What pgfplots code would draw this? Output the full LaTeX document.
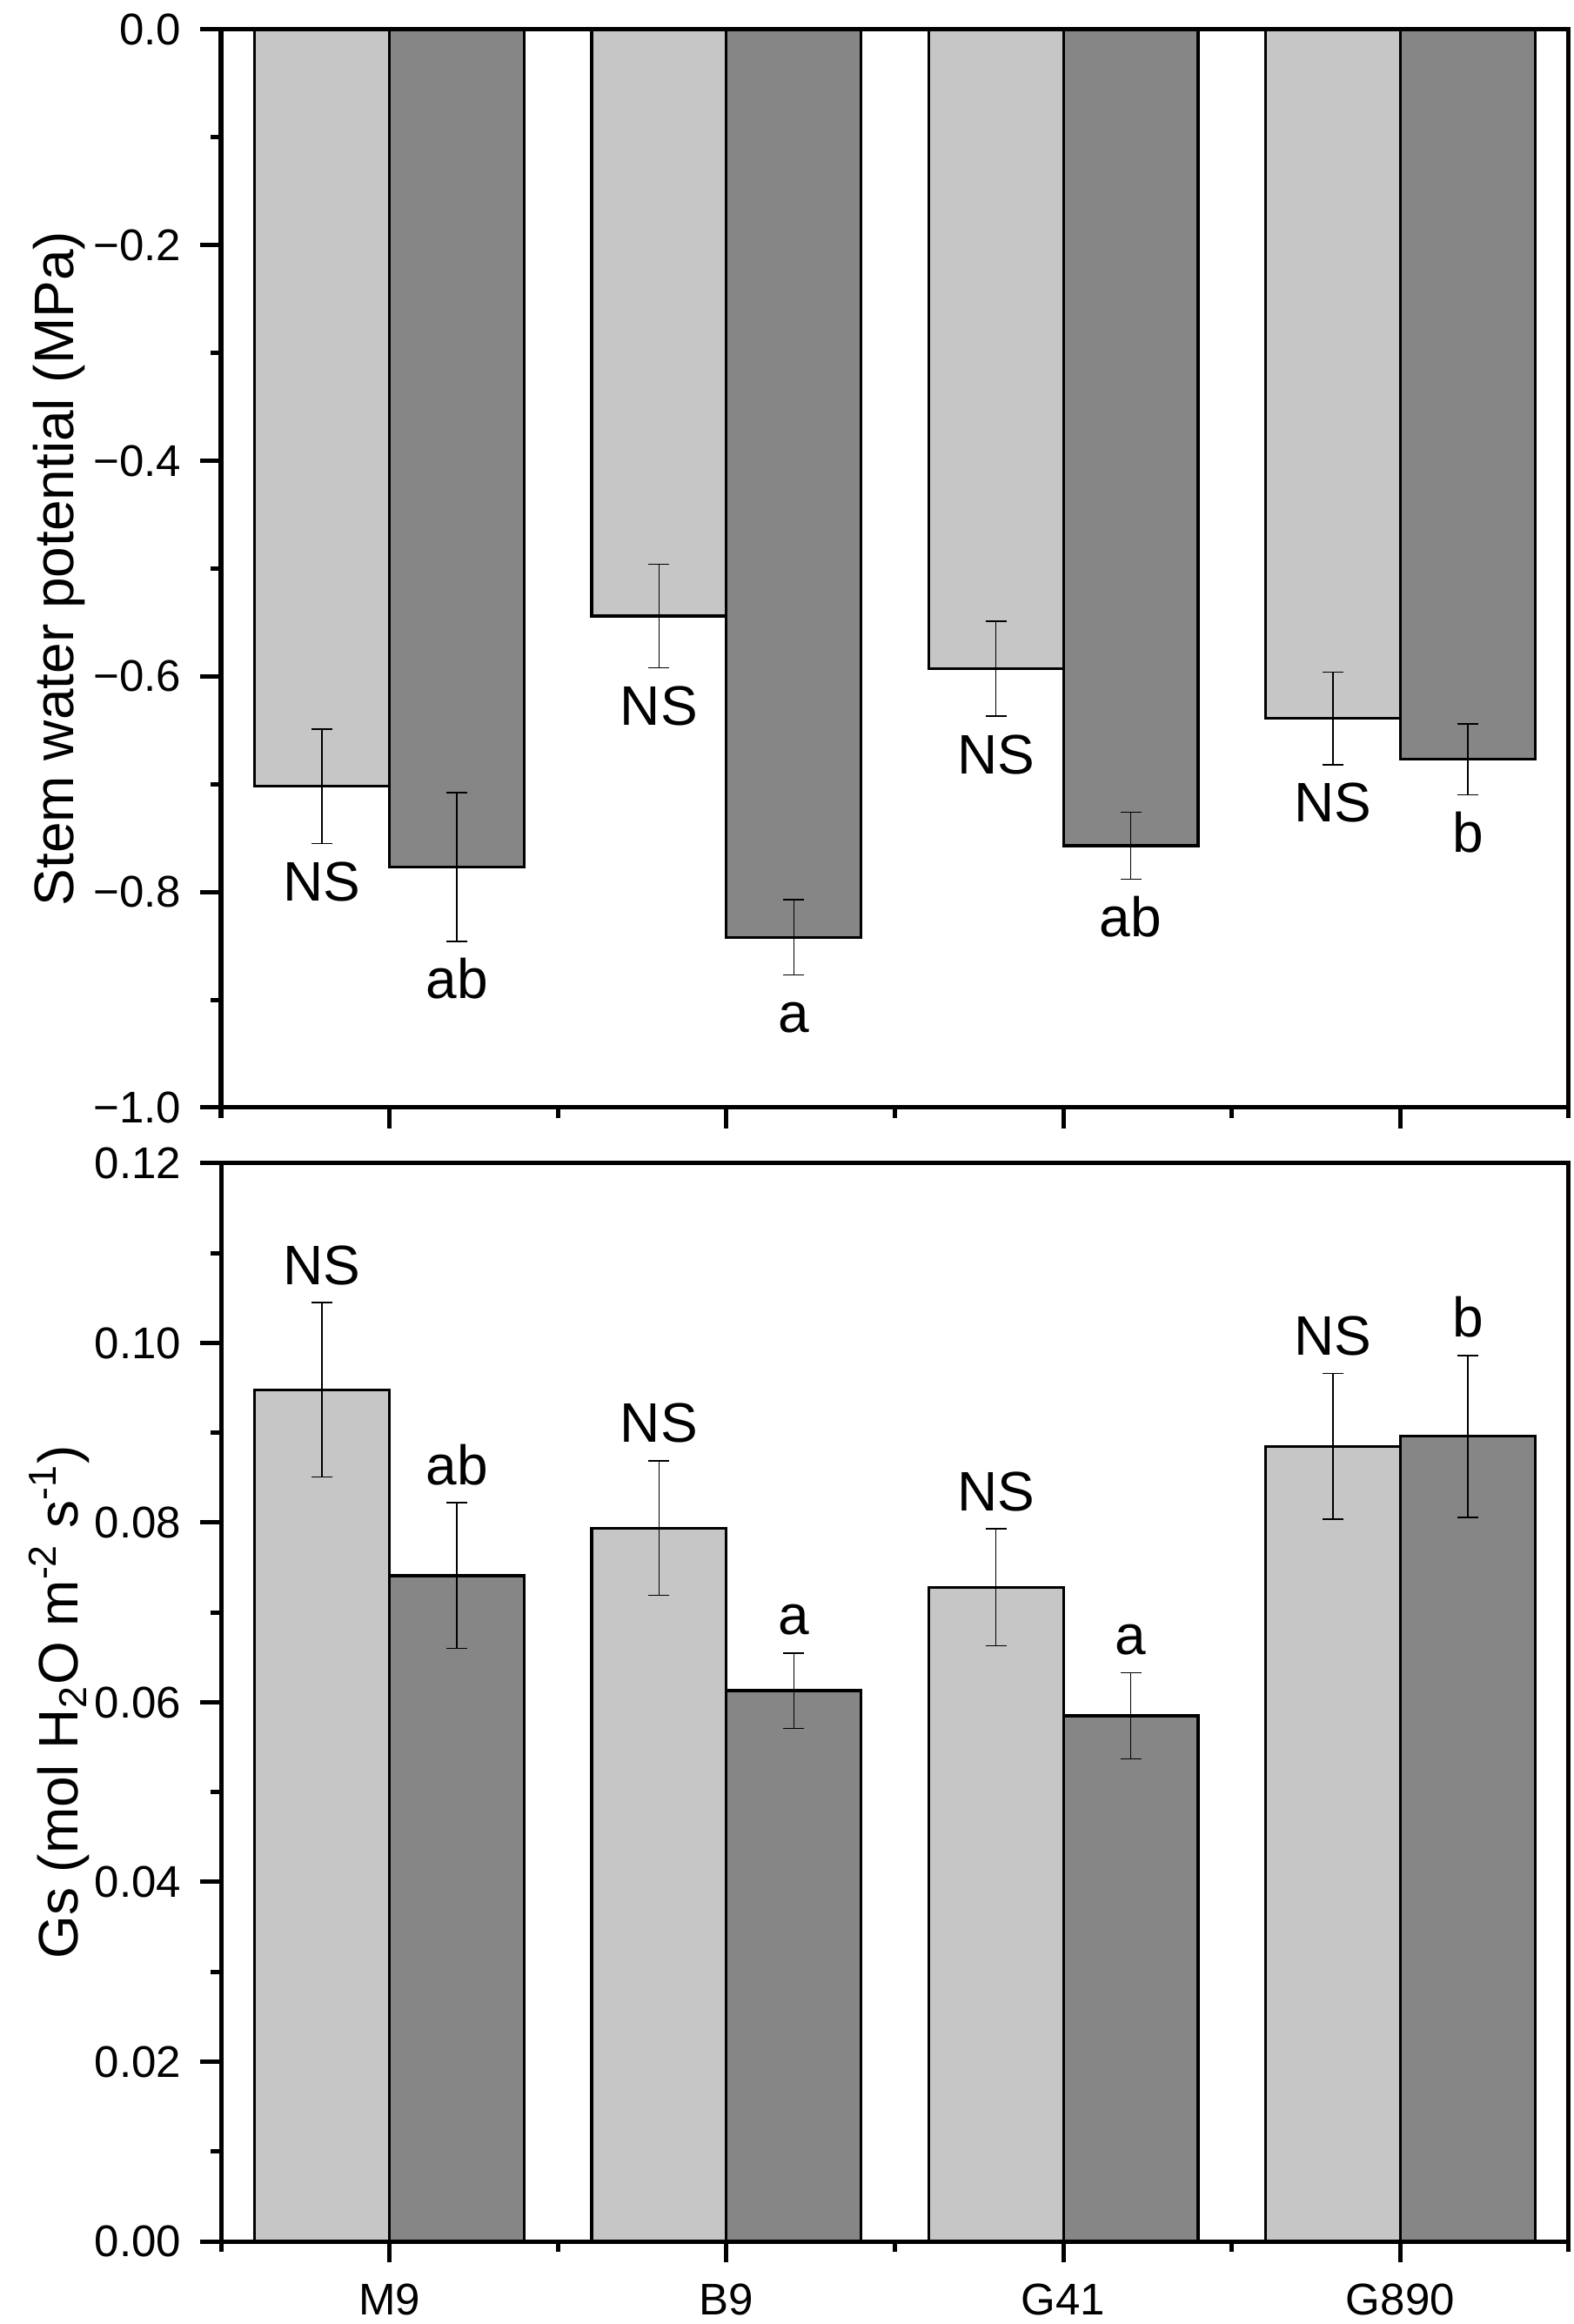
\documentclass[border=0pt]{standalone}
\usepackage{fontspec}
\setmainfont{Liberation Sans}
\usepackage{pgfplots}
\pgfplotsset{compat=1.18}
\definecolor{lightbar}{HTML}{C6C6C6}
\definecolor{darkbar}{HTML}{868686}
\pgfplotsset{
  mybase/.style={
    scale only axis,
    width=387.25bp,
    ybar, bar width=0.4,
    xmin=-0.5, xmax=3.5,
    xtick={0,1,2,3},
    minor xtick={-0.5,0.5,1.5,2.5,3.5},
    xtick pos=bottom, ytick pos=left,
    tick align=outside,
    major tick length=6bp, minor tick length=3bp,
    every tick/.style={black, line width=1.25bp},
    every minor tick/.style={black, line width=1.25bp},
    axis line style={line width=1.25bp},
    tick label style={font=\fontsize{12.75bp}{15bp}\selectfont},
    yticklabel style={xshift=-2bp},
    xticklabel style={yshift=-2.75bp},
    label style={font=\fontsize{16bp}{19bp}\selectfont},
    axis on top,
    clip=false,
    ylabel style={at={(rel axis cs:-0.12,0.5)}, anchor=center, rotate=0},
  },
  barL/.style={bar shift=-0.2, fill=lightbar, draw=black, line width=0.8bp,
    error bars/.cd, y dir=both, y explicit,
    error bar style={line width=0.4bp, black},
    error mark options={rotate=90, mark size=3bp, line width=0.4bp, black}},
  barD/.style={bar shift=0.2, fill=darkbar, draw=black, line width=0.8bp,
    error bars/.cd, y dir=both, y explicit,
    error bar style={line width=0.4bp, black},
    error mark options={rotate=90, mark size=3bp, line width=0.4bp, black}},
}
\tikzset{lbl/.style={font=\fontsize{16bp}{19bp}\selectfont, inner sep=0pt, text height=11.5bp, text depth=0pt}}
\begin{document}
\begin{tikzpicture}
\path[use as bounding box] (0,0) rectangle (452.25bp,667.75bp);
% ---------- top panel ----------
\begin{axis}[mybase,
  at={(63.5bp,349.5bp)}, anchor=south west,
  height=309.75bp,
  ymin=-1, ymax=0,
  ytick={0,-0.2,-0.4,-0.6,-0.8,-1.0},
  yticklabels={0.0,−0.2,−0.4,−0.6,−0.8,−1.0},
  minor ytick={-0.1,-0.3,-0.5,-0.7,-0.9},
  xticklabels={},
  ylabel={Stem water potential (MPa)},
]
\addplot[barL] coordinates {
  (0,-0.702) +- (0,0.053)
  (1,-0.544) +- (0,0.048)
  (2,-0.593) +- (0,0.044)
  (3,-0.639) +- (0,0.043)
};
\addplot[barD] coordinates {
  (0,-0.777) +- (0,0.069)
  (1,-0.842) +- (0,0.035)
  (2,-0.757) +- (0,0.031)
  (3,-0.677) +- (0,0.033)
};
\node[lbl, anchor=north, yshift=-4.75bp] at (axis cs:-0.2,{-0.702-0.053}) {NS};
\node[lbl, anchor=north, yshift=-4.75bp] at (axis cs:0.8,{-0.544-0.048}) {NS};
\node[lbl, anchor=north, yshift=-4.75bp] at (axis cs:1.8,{-0.593-0.044}) {NS};
\node[lbl, anchor=north, yshift=-4.75bp] at (axis cs:2.8,{-0.639-0.043}) {NS};
\node[lbl, anchor=north, yshift=-4.75bp] at (axis cs:0.2,{-0.777-0.069}) {ab};
\node[lbl, anchor=north, yshift=-4.75bp] at (axis cs:1.2,{-0.842-0.035}) {a};
\node[lbl, anchor=north, yshift=-4.75bp] at (axis cs:2.2,{-0.757-0.031}) {ab};
\node[lbl, anchor=north, yshift=-4.75bp] at (axis cs:3.2,{-0.677-0.033}) {b};
\end{axis}
% ---------- bottom panel ----------
\begin{axis}[mybase,
  at={(63.5bp,23.75bp)}, anchor=south west,
  height=309.75bp,
  ymin=0, ymax=0.12,
  ytick={0,0.02,0.04,0.06,0.08,0.10,0.12},
  yticklabels={0.00,0.02,0.04,0.06,0.08,0.10,0.12},
  minor ytick={0.01,0.03,0.05,0.07,0.09,0.11},
  xticklabels={M9,B9,G41,G890},
  ylabel={Gs (mol H\textsubscript{2}O m\textsuperscript{-2} s\textsuperscript{-1})},
]
\addplot[barL] coordinates {
  (0,0.0948) +- (0,0.0097)
  (1,0.0794) +- (0,0.0075)
  (2,0.0728) +- (0,0.0065)
  (3,0.0885) +- (0,0.0081)
};
\addplot[barD] coordinates {
  (0,0.0741) +- (0,0.0081)
  (1,0.0613) +- (0,0.0042)
  (2,0.0585) +- (0,0.0048)
  (3,0.0896) +- (0,0.0090)
};
\node[lbl, anchor=base, yshift=5.25bp] at (axis cs:-0.2,{0.0948+0.0097}) {NS};
\node[lbl, anchor=base, yshift=5.25bp] at (axis cs:0.8,{0.0794+0.0075}) {NS};
\node[lbl, anchor=base, yshift=5.25bp] at (axis cs:1.8,{0.0728+0.0065}) {NS};
\node[lbl, anchor=base, yshift=5.25bp] at (axis cs:2.8,{0.0885+0.0081}) {NS};
\node[lbl, anchor=base, yshift=5.25bp] at (axis cs:0.2,{0.0741+0.0081}) {ab};
\node[lbl, anchor=base, yshift=5.25bp] at (axis cs:1.2,{0.0613+0.0042}) {a};
\node[lbl, anchor=base, yshift=5.25bp] at (axis cs:2.2,{0.0585+0.0048}) {a};
\node[lbl, anchor=base, yshift=5.25bp] at (axis cs:3.2,{0.0896+0.0090}) {b};
\end{axis}
\end{tikzpicture}
\end{document}
